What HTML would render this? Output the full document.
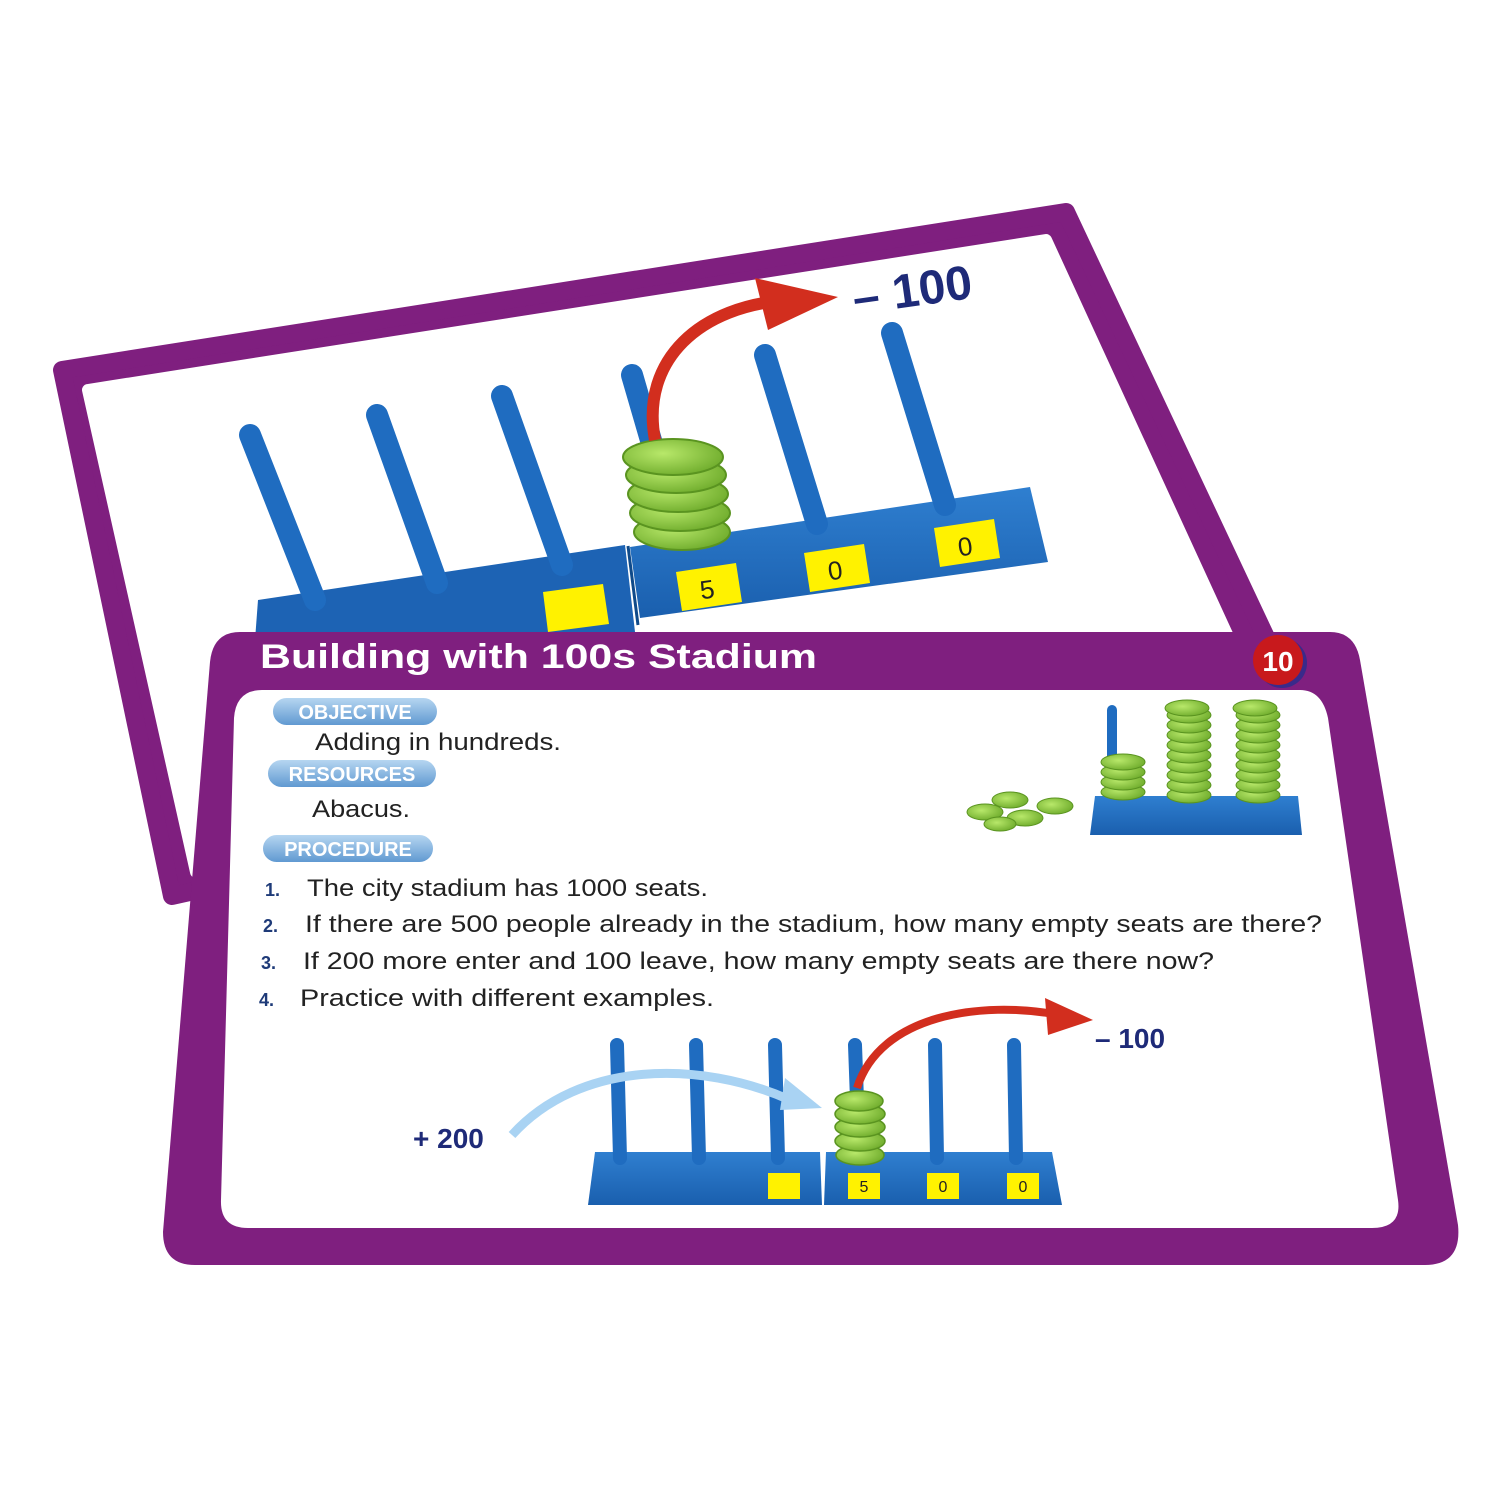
<!DOCTYPE html>
<html><head><meta charset="utf-8"><style>
html,body{margin:0;padding:0;background:#fff;width:1500px;height:1500px;overflow:hidden}
svg{display:block}
text{font-family:"Liberation Sans",sans-serif}
</style></head><body>
<svg width="1500" height="1500" viewBox="0 0 1500 1500" xmlns="http://www.w3.org/2000/svg">
<defs>
<linearGradient id="pill" x1="0" y1="0" x2="0" y2="1"><stop offset="0" stop-color="#b9d8f2"/><stop offset="1" stop-color="#5d97d0"/></linearGradient>
<linearGradient id="blue" x1="0" y1="0" x2="0" y2="1"><stop offset="0" stop-color="#2f7fd0"/><stop offset="1" stop-color="#1a5fae"/></linearGradient>
<radialGradient id="green" cx="0.4" cy="0.4" r="0.7"><stop offset="0" stop-color="#b8e86a"/><stop offset="1" stop-color="#6aa828"/></radialGradient>
</defs>

<!-- Back card -->
<polygon points="62,370 1066,212 1272,650 172,896" fill="#7f1f7f" stroke="#7f1f7f" stroke-width="18" stroke-linejoin="round"/>
<polygon points="88,390 1046,240 1248,680 196,872" fill="#fff" stroke="#fff" stroke-width="12" stroke-linejoin="round"/>

<!-- Back abacus base -->
<polygon points="258,600 625,545 635,632 255,640" fill="#1d63b4"/>
<polygon points="630,547 1030,487 1048,562 640,618" fill="url(#blue)"/>
<line x1="628" y1="546" x2="638" y2="625" stroke="#0f4a8a" stroke-width="3"/>
<g stroke="#1f6cc0" stroke-width="22" stroke-linecap="round">
<line x1="250" y1="435" x2="315" y2="600"/>
<line x1="377" y1="415" x2="437" y2="583"/>
<line x1="502" y1="396" x2="562" y2="565"/>
<line x1="632" y1="375" x2="680" y2="540"/>
<line x1="765" y1="355" x2="817" y2="524"/>
<line x1="892" y1="333" x2="945" y2="505"/>
</g>
<g fill="url(#green)" stroke="#5a9420" stroke-width="2">
<ellipse cx="682" cy="532" rx="48" ry="18"/>
<ellipse cx="680" cy="513" rx="50" ry="18"/>
<ellipse cx="678" cy="494" rx="50" ry="18"/>
<ellipse cx="676" cy="475" rx="50" ry="18"/>
<ellipse cx="673" cy="457" rx="50" ry="18"/>
</g>
<g fill="#fff200">
<polygon points="543,592 603,584 609,624 548,632"/>
<polygon points="676,572 736,563 742,602 682,611"/>
<polygon points="804,553 864,544 870,583 810,592"/>
<polygon points="934,528 994,519 1000,558 940,567"/>
</g>
<text x="700" y="598" font-size="26" fill="#222" transform="rotate(-8 710 590)">5</text>
<text x="828" y="579" font-size="26" fill="#222" transform="rotate(-8 838 571)">0</text>
<text x="958" y="555" font-size="26" fill="#222" transform="rotate(-8 968 547)">0</text>
<path d="M655,440 C640,360 700,305 790,300" fill="none" stroke="#d22e1e" stroke-width="12"/>
<polygon points="755,278 838,297 768,330" fill="#d22e1e"/>
<text x="852" y="308" font-size="48" font-weight="bold" fill="#1e2a78" transform="rotate(-8 900 290)">– 100</text>

<!-- Front card -->
<path d="M240,632 L1330,632 Q1355,632 1360,660 L1458,1225 Q1462,1265 1425,1265 L195,1265 Q163,1265 163,1232 L210,662 Q213,632 240,632 Z" fill="#7f1f7f"/>
<path d="M262,690 L1300,690 Q1322,690 1328,718 L1398,1200 Q1402,1228 1372,1228 L248,1228 Q220,1228 221,1200 L234,718 Q236,690 262,690 Z" fill="#fff"/>
<text x="260" y="668" font-size="34" font-weight="bold" fill="#fff" textLength="557" lengthAdjust="spacingAndGlyphs">Building with 100s Stadium</text>
<circle cx="1282" cy="663" r="25" fill="#3a2a8a"/>
<circle cx="1278" cy="660" r="25" fill="#c8191c"/>
<text x="1278" y="671" font-size="28" font-weight="bold" fill="#fff" text-anchor="middle">10</text>

<g stroke="#fff" stroke-width="2">
<rect x="272" y="697" width="166" height="29" rx="14.5" fill="url(#pill)"/>
<rect x="267" y="759" width="170" height="29" rx="14.5" fill="url(#pill)"/>
<rect x="262" y="834" width="172" height="29" rx="14.5" fill="url(#pill)"/>
</g>
<g font-size="20" font-weight="bold" fill="#fff" text-anchor="middle">
<text x="355" y="719">OBJECTIVE</text>
<text x="352" y="781">RESOURCES</text>
<text x="348" y="856">PROCEDURE</text>
</g>
<g font-size="24" fill="#222">
<text x="315" y="750" textLength="246" lengthAdjust="spacingAndGlyphs">Adding in hundreds.</text>
<text x="312" y="817" textLength="98" lengthAdjust="spacingAndGlyphs">Abacus.</text>
<text x="307" y="896" textLength="401" lengthAdjust="spacingAndGlyphs">The city stadium has 1000 seats.</text>
<text x="305" y="932" textLength="1017" lengthAdjust="spacingAndGlyphs">If there are 500 people already in the stadium, how many empty seats are there?</text>
<text x="303" y="969" textLength="911" lengthAdjust="spacingAndGlyphs">If 200 more enter and 100 leave, how many empty seats are there now?</text>
<text x="300" y="1006" textLength="414" lengthAdjust="spacingAndGlyphs">Practice with different examples.</text>
</g>
<g font-size="18" font-weight="bold" fill="#1e3a78">
<text x="265" y="896">1.</text><text x="263" y="932">2.</text><text x="261" y="969">3.</text><text x="259" y="1006">4.</text>
</g>

<!-- top-right abacus -->
<polygon points="1095,796 1298,796 1302,835 1090,835" fill="url(#blue)"/>
<rect x="1107" y="705" width="10" height="90" rx="5" fill="#1f6cc0"/>
<g fill="url(#green)" stroke="#5a9420" stroke-width="1">
<ellipse cx="1123" cy="792" rx="22" ry="8"/><ellipse cx="1123" cy="782" rx="22" ry="8"/><ellipse cx="1123" cy="772" rx="22" ry="8"/><ellipse cx="1123" cy="762" rx="22" ry="8"/>
</g>
<g fill="url(#green)" stroke="#5a9420" stroke-width="1">
<ellipse cx="1189" cy="795" rx="22" ry="8"/><ellipse cx="1189" cy="785" rx="22" ry="8"/><ellipse cx="1189" cy="775" rx="22" ry="8"/><ellipse cx="1189" cy="765" rx="22" ry="8"/><ellipse cx="1189" cy="755" rx="22" ry="8"/><ellipse cx="1189" cy="745" rx="22" ry="8"/><ellipse cx="1189" cy="735" rx="22" ry="8"/><ellipse cx="1189" cy="725" rx="22" ry="8"/><ellipse cx="1189" cy="715" rx="22" ry="8"/><ellipse cx="1187" cy="708" rx="22" ry="8"/>
<ellipse cx="1258" cy="795" rx="22" ry="8"/><ellipse cx="1258" cy="785" rx="22" ry="8"/><ellipse cx="1258" cy="775" rx="22" ry="8"/><ellipse cx="1258" cy="765" rx="22" ry="8"/><ellipse cx="1258" cy="755" rx="22" ry="8"/><ellipse cx="1258" cy="745" rx="22" ry="8"/><ellipse cx="1258" cy="735" rx="22" ry="8"/><ellipse cx="1258" cy="725" rx="22" ry="8"/><ellipse cx="1258" cy="715" rx="22" ry="8"/><ellipse cx="1255" cy="708" rx="22" ry="8"/>
<ellipse cx="985" cy="812" rx="18" ry="8"/><ellipse cx="1010" cy="800" rx="18" ry="8"/><ellipse cx="1025" cy="818" rx="18" ry="8"/><ellipse cx="1055" cy="806" rx="18" ry="8"/><ellipse cx="1000" cy="824" rx="16" ry="7"/>
</g>

<!-- bottom abacus -->
<polygon points="595,1152 820,1152 822,1205 588,1205" fill="url(#blue)"/>
<polygon points="826,1152 1052,1152 1062,1205 824,1205" fill="url(#blue)"/>
<g stroke="#1f6cc0" stroke-width="14" stroke-linecap="round">
<line x1="617" y1="1045" x2="620" y2="1158"/>
<line x1="696" y1="1045" x2="699" y2="1158"/>
<line x1="775" y1="1045" x2="778" y2="1158"/>
<line x1="855" y1="1045" x2="857" y2="1100"/>
<line x1="935" y1="1045" x2="937" y2="1158"/>
<line x1="1014" y1="1045" x2="1016" y2="1158"/>
</g>
<g fill="url(#green)" stroke="#5a9420" stroke-width="1.5">
<ellipse cx="860" cy="1155" rx="24" ry="10"/><ellipse cx="860" cy="1141" rx="25" ry="10"/><ellipse cx="860" cy="1127" rx="25" ry="10"/><ellipse cx="860" cy="1114" rx="25" ry="10"/><ellipse cx="859" cy="1101" rx="24" ry="10"/>
</g>
<g fill="#fff200">
<rect x="768" y="1173" width="32" height="26"/><rect x="848" y="1173" width="32" height="26"/><rect x="927" y="1173" width="32" height="26"/><rect x="1007" y="1173" width="32" height="26"/>
</g>
<g font-size="16" fill="#222" text-anchor="middle"><text x="864" y="1192">5</text><text x="943" y="1192">0</text><text x="1023" y="1192">0</text></g>
<path d="M512,1135 C580,1060 700,1060 790,1100" fill="none" stroke="#a9d3f3" stroke-width="9"/>
<polygon points="785,1078 822,1108 780,1110" fill="#a9d3f3"/>
<path d="M857,1088 C880,1015 980,1000 1060,1015" fill="none" stroke="#d22e1e" stroke-width="8"/>
<polygon points="1045,998 1093,1020 1048,1035" fill="#d22e1e"/>
<text x="1095" y="1048" font-size="28" font-weight="bold" fill="#1e2a78">– 100</text>
<text x="413" y="1148" font-size="28" font-weight="bold" fill="#1e2a78">+ 200</text>
</svg>
</body></html>
